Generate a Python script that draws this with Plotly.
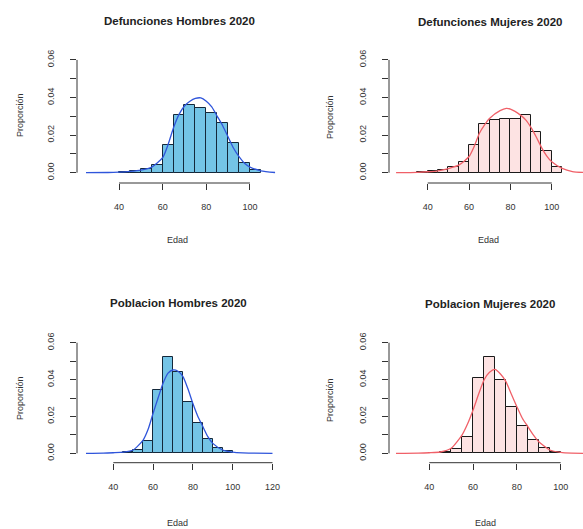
import plotly.graph_objects as go

W, H = 583, 529

# ---- data: histogram bins (left edges, width 5) and densities ----
bin_width = 5
def_h_edges = [40, 45, 50, 55, 60, 65, 70, 75, 80, 85, 90, 95, 100]
def_h_dens = [0.0005, 0.001, 0.002, 0.004, 0.0145, 0.0305, 0.0362, 0.0345, 0.032, 0.0264, 0.016, 0.005, 0.0015]

def_m_edges = [35, 40, 45, 50, 55, 60, 65, 70, 75, 80, 85, 90, 95, 100]
def_m_dens = [0.0003, 0.0007, 0.0014, 0.0032, 0.0059, 0.0148, 0.026, 0.0279, 0.0288, 0.0288, 0.0309, 0.0218, 0.0118, 0.0032]

pob_h_edges = [40, 45, 50, 55, 60, 65, 70, 75, 80, 85, 90, 95]
pob_h_dens = [0.0003, 0.0007, 0.002, 0.0069, 0.0344, 0.0524, 0.0443, 0.028, 0.0166, 0.0076, 0.0027, 0.001]

pob_m_edges = [40, 45, 50, 55, 60, 65, 70, 75, 80, 85, 90, 95]
pob_m_dens = [0.0004, 0.0009, 0.0022, 0.009, 0.0407, 0.0524, 0.0398, 0.025, 0.0148, 0.0072, 0.003, 0.0009]

# ---- kernel density curves (age, density) ----
kde_def_h_x = [24.9, 35, 40, 45, 50, 55, 60, 62.5, 65, 67.5, 70, 72.5, 75, 77.5, 80, 82.5, 85, 87.5, 90, 92.5, 95, 97.5, 100, 105, 111.5]
kde_def_h_y = [0, 0.0001, 0.0003, 0.0007, 0.0014, 0.003, 0.008, 0.015, 0.024, 0.031, 0.0355, 0.038, 0.0395, 0.0398, 0.038, 0.035, 0.030, 0.025, 0.019, 0.013, 0.0085, 0.005, 0.003, 0.001, 0.0001]

kde_def_m_x = [24.7, 35, 40, 45, 50, 55, 60, 62.5, 65, 67.5, 70, 75, 78, 80, 85, 87.5, 90, 92.5, 95, 97.5, 100, 105, 110, 116]
kde_def_m_y = [0, 0.0002, 0.0005, 0.001, 0.0022, 0.004, 0.0086, 0.014, 0.021, 0.0255, 0.029, 0.033, 0.0342, 0.0338, 0.0305, 0.028, 0.024, 0.019, 0.0135, 0.009, 0.0058, 0.0023, 0.0006, 0.0001]

kde_pob_h_x = [26.3, 35, 40, 45, 50, 55, 57.5, 60, 62.5, 65, 67.5, 70, 72.5, 75, 77.5, 80, 82.5, 85, 87.5, 90, 95, 100, 105, 110, 120]
kde_pob_h_y = [0, 0.0001, 0.0003, 0.0006, 0.0018, 0.0072, 0.013, 0.0217, 0.030, 0.038, 0.0435, 0.0452, 0.0445, 0.0416, 0.035, 0.027, 0.020, 0.0145, 0.009, 0.0054, 0.0018, 0.0006, 0.0002, 0.0001, 0]

kde_pob_m_x = [24.8, 35, 40, 45, 50, 55, 57.5, 60, 62.5, 65, 67.5, 70, 72.5, 75, 77.5, 80, 82.5, 85, 87.5, 90, 95, 100, 105, 112]
kde_pob_m_y = [0, 0.0001, 0.0003, 0.0007, 0.0027, 0.01, 0.016, 0.0235, 0.032, 0.0398, 0.044, 0.0455, 0.043, 0.0389, 0.032, 0.0253, 0.019, 0.0145, 0.01, 0.0063, 0.0018, 0.0005, 0.0001, 0]

titles = ["Defunciones Hombres 2020", "Defunciones Mujeres 2020",
          "Poblacion Hombres 2020", "Poblacion Mujeres 2020"]
x_title = "Edad"
y_title = "Proporción"
y_ticks = [0, 0.01, 0.02, 0.03, 0.04, 0.05, 0.06]
y_tick_text = ["0.00", "", "0.02", "", "0.04", "", "0.06"]
x_ticks_top = [40, 60, 80, 100]
x_ticks_pob_h = [40, 60, 80, 100, 120]
x_ticks_pob_m = [40, 60, 80, 100]

BLUE_FILL = "#74c4e6"
PINK_FILL = "#fde3e3"
BLUE_LINE = "#2f55db"
RED_LINE = "#f06068"
FONT = "Liberation Sans, Arial, sans-serif"
TXT = "#333333"

def fx(p):
    return p / W

def fy(p):
    return 1 - p / H

panels = [
    dict(edges=def_h_edges, dens=def_h_dens, kx=kde_def_h_x, ky=kde_def_h_y,
         fill=BLUE_FILL, line=BLUE_LINE, edge="#14283a", xd=[77, 291], yd=[50, 183],
         xr=[20.76, 118.8], yr=[-0.00548, 0.06527], xt=x_ticks_top,
         title_xy=(179, 21), xl_xy=(177, 240), yl_xy=(20, 115)),
    dict(edges=def_m_edges, dens=def_m_dens, kx=kde_def_m_x, ky=kde_def_m_y,
         fill=PINK_FILL, line=RED_LINE, edge="#1a1a1a", xd=[389, 583], yd=[50, 183],
         xr=[21.28, 115.1], yr=[-0.00548, 0.06527], xt=x_ticks_top,
         title_xy=(490, 22), xl_xy=(488, 240), yl_xy=(330, 117)),
    dict(edges=pob_h_edges, dens=pob_h_dens, kx=kde_pob_h_x, ky=kde_pob_h_y,
         fill=BLUE_FILL, line=BLUE_LINE, edge="#14283a", xd=[77, 291], yd=[333, 462.7],
         xr=[21.76, 129.3], yr=[-0.0051, 0.06527], xt=x_ticks_pob_h,
         title_xy=(178, 303), xl_xy=(177, 523), yl_xy=(20, 398)),
    dict(edges=pob_m_edges, dens=pob_m_dens, kx=kde_pob_m_x, ky=kde_pob_m_y,
         fill=PINK_FILL, line=RED_LINE, edge="#1a1a1a", xd=[389, 583], yd=[333, 462.7],
         xr=[21.6, 110.2], yr=[-0.0051, 0.06527], xt=x_ticks_pob_m,
         title_xy=(490, 304), xl_xy=(485, 523), yl_xy=(330, 400)),
]

fig = go.Figure()
layout = dict(width=W, height=H, margin=dict(l=0, r=0, t=0, b=0),
              paper_bgcolor="white", plot_bgcolor="white", showlegend=False,
              bargap=0, font=dict(family=FONT, color=TXT))
shapes = []
annotations = []

for i, p in enumerate(panels, start=1):
    xa = "x" if i == 1 else f"x{i}"
    ya = "y" if i == 1 else f"y{i}"
    fig.add_trace(go.Bar(
        x=p["edges"], y=p["dens"], width=bin_width, offset=0,
        marker=dict(color=p["fill"], line=dict(color=p["edge"], width=1)),
        xaxis=xa, yaxis=ya, hoverinfo="skip"))
    fig.add_trace(go.Scatter(
        x=p["kx"], y=p["ky"], mode="lines",
        line=dict(color=p["line"], width=1.3, shape="spline", smoothing=0.6),
        xaxis=xa, yaxis=ya, hoverinfo="skip"))

    layout["xaxis" if i == 1 else f"xaxis{i}"] = dict(
        domain=[fx(p["xd"][0]), fx(p["xd"][1])], range=p["xr"], anchor=ya,
        showgrid=False, zeroline=False, showline=False,
        tickmode="array", tickvals=p["xt"], ticktext=[str(v) for v in p["xt"]],
        ticks="outside", ticklen=6, tickwidth=1, tickcolor="#333",
        ticklabelstandoff=9, tickfont=dict(size=9, family=FONT, color=TXT))
    layout["yaxis" if i == 1 else f"yaxis{i}"] = dict(
        domain=[fy(p["yd"][1]), fy(p["yd"][0])], range=p["yr"], anchor=xa,
        showgrid=False, zeroline=False, showline=False,
        tickmode="array", tickvals=y_ticks, ticktext=y_tick_text,
        ticks="outside", ticklen=6, tickwidth=1, tickcolor="#333",
        tickangle=-90, ticklabelstandoff=12,
        tickfont=dict(size=9, family=FONT, color=TXT))

    # R-style axis lines spanning only the labelled range
    shapes.append(dict(type="line", xref=xa, yref=f"{ya} domain",
                       x0=p["xt"][0], x1=p["xt"][-1], y0=0, y1=0,
                       line=dict(color="#333", width=1)))
    shapes.append(dict(type="line", xref=f"{xa} domain", yref=ya,
                       x0=0, x1=0, y0=y_ticks[0], y1=y_ticks[-1],
                       line=dict(color="#333", width=1)))

    tx, ty = p["title_xy"]
    annotations.append(dict(text=f"<b>{titles[i-1]}</b>", x=fx(tx), y=fy(ty),
                            xref="paper", yref="paper", showarrow=False,
                            xanchor="center", yanchor="middle",
                            font=dict(size=11.5, family=FONT, color="#222")))
    lx, ly = p["xl_xy"]
    annotations.append(dict(text=x_title, x=fx(lx), y=fy(ly), xref="paper",
                            yref="paper", showarrow=False, xanchor="center",
                            yanchor="middle", font=dict(size=9, family=FONT, color=TXT)))
    vx, vy = p["yl_xy"]
    annotations.append(dict(text=y_title, x=fx(vx), y=fy(vy), xref="paper",
                            yref="paper", showarrow=False, textangle=-90,
                            xanchor="center", yanchor="middle",
                            font=dict(size=9, family=FONT, color=TXT)))

layout["shapes"] = shapes
layout["annotations"] = annotations
fig.update_layout(**layout)
fig.write_html("out.html")
